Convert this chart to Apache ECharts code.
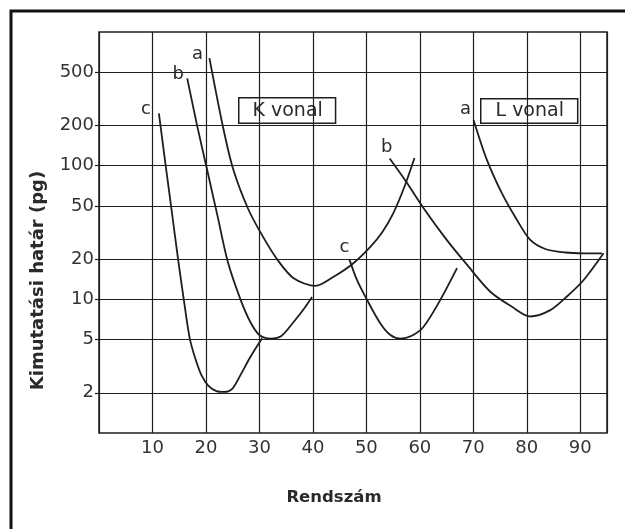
<!DOCTYPE html>
<html>
<head>
<meta charset="utf-8">
<script src="https://cdn.jsdelivr.net/npm/echarts@6/dist/echarts.min.js"></script>
<style>
  html, body { margin: 0; padding: 0; background: #fff; }
  #chart { width: 625px; height: 529px; }
</style>
</head>
<body>
<div id="chart"></div>
<script>
// ---------- DATA (rendszám, kimutatási határ pg) ----------

// K vonal
const kA = [[20.65, 638], [23.2, 194], [25.1, 94], [27.9, 47.4], [30.6, 29.7], [33.4, 19.7], [36.4, 14.4], [40.5, 12.6], [43.8, 14.7], [47.4, 18.4], [50.7, 24.6], [53.0, 31.9], [55.05, 44.2], [57.1, 69.2], [59.0, 114]];
const kB = [[16.5, 450], [18.4, 195], [20.2, 94], [22.15, 42.3], [24.1, 19], [26.45, 10], [28.3, 6.77], [30.0, 5.41], [32.1, 5.09], [34.1, 5.32], [36.4, 6.77], [38.3, 8.46], [39.85, 10.4]];
const kC = [[11.2, 246], [12.56, 94], [13.55, 47.4], [14.86, 19], [15.85, 10], [16.97, 5.11], [18.04, 3.58], [19.16, 2.71], [20.47, 2.25], [21.96, 2.06], [23.46, 2.03], [24.95, 2.15], [26.45, 2.71], [28.3, 3.7], [30.5, 5.11]];

// L vonal
const lA = [[70.06, 219], [72.56, 110], [75.36, 62], [78.17, 39.2], [80.65, 27.8], [83.46, 23.8], [87.2, 22.4], [90.6, 22.1], [94.06, 22.1]];
const lB = [[54.36, 113], [57.48, 75.4], [60.71, 48], [64.77, 28.7], [68.69, 18.4], [73.18, 11.4], [77.23, 8.8], [80.65, 7.44], [84.4, 8.3], [87.5, 10.5], [90.6, 13.9], [94.36, 22.1]];
const lC = [[46.82, 19.9], [48.26, 13.9], [50.13, 9.9], [52.62, 6.6], [54.5, 5.41], [56.36, 5.09], [58.4, 5.32], [60.7, 6.24], [63.83, 9.9], [66.95, 17.1]];

const yTicks = [2, 5, 10, 20, 50, 100, 200, 500];
const xTicks = [10, 20, 30, 40, 50, 60, 70, 80, 90];

const FONT = 'DejaVu Sans';
const INK = '#1e1e1e';

// letter at the start of each curve, offset in px
function curve(data, letter, offset) {
	return {
		type: 'line',
		yAxisIndex: 0,
		data: data,
		smooth: 0.3,
		symbol: 'none',
		lineStyle: { color: INK, width: 1.8 },
		markPoint: {
			symbol: 'circle',
			symbolSize: 0,
			silent: true,
			data: [{ coord: data[0] }],
			label: {
				show: true,
				formatter: letter,
				offset: offset,
				color: '#2a2a2a',
				fontFamily: FONT,
				fontSize: 18
			}
		}
	};
}

const chart = echarts.init(document.getElementById('chart'));

const option = {
	animation: false,
	backgroundColor: '#fff',
	grid: {
		left: 99,
		right: 18,
		top: 32,
		bottom: 96,
		show: true,
		borderColor: INK,
		borderWidth: 1.5
	},
	xAxis: {
		type: 'value',
		min: 0,
		max: 95,
		interval: 10,
		axisLine: { show: false },
		axisTick: { show: false },
		splitLine: { show: true, lineStyle: { color: INK, width: 1.2 } },
		axisLabel: {
			margin: 6,
			color: '#333',
			fontFamily: FONT,
			fontSize: 18,
			formatter: v => xTicks.indexOf(v) >= 0 ? String(v) : ''
		},
		name: 'Rendszám',
		nameLocation: 'middle',
		nameGap: 56,
		nameTextStyle: {
			color: '#2a2a2a',
			fontFamily: FONT,
			fontSize: 16.5,
			fontWeight: 'bold',
			padding: [0, 38, 0, 0]
		}
	},
	yAxis: [
		{
			// data axis (log)
			type: 'log',
			logBase: 10,
			min: 1,
			max: 1000,
			show: false
		},
		{
			// grid + labels at 2, 5, 10 ... on the same log positions
			type: 'value',
			position: 'left',
			min: 0,
			max: 3,
			axisLine: { show: false },
			axisTick: {
				show: true,
				length: 4,
				lineStyle: { color: INK, width: 1.2 },
				customValues: yTicks.map(v => Math.log10(v))
			},
			splitLine: { show: true, lineStyle: { color: INK, width: 1.2 } },
			axisLabel: {
				margin: 5,
				color: '#333',
				fontFamily: FONT,
				fontSize: 18,
				customValues: yTicks.map(v => Math.log10(v)),
				formatter: v => String(Math.round(Math.pow(10, v)))
			},
			name: 'Kimutatási határ (pg)',
			nameLocation: 'middle',
			nameRotate: 90,
			nameGap: 52,
			nameTextStyle: {
				color: '#2a2a2a',
				fontFamily: FONT,
				fontSize: 18,
				fontWeight: 'bold',
				padding: [0, 96, 0, 0]
			}
		}
	],
	series: [
		curve(kA, 'a', [-12, -4]),
		curve(kB, 'b', [-9, -4]),
		curve(kC, 'c', [-13, -4]),
		curve(lA, 'a', [-8, -11]),
		curve(lB, 'b', [-3, -11]),
		curve(lC, 'c', [-5, -12])
	],
	graphic: [
		{
			// outer frame of the figure
			type: 'rect',
			silent: true,
			shape: { x: 11, y: 11, width: 700, height: 600 },
			style: { fill: 'none', stroke: '#111', lineWidth: 3 }
		},
		{
			type: 'text',
			left: 238,
			top: 97,
			style: {
				text: 'K vonal',
				font: '19px "DejaVu Sans"',
				fill: '#2a2a2a',
				backgroundColor: '#fff',
				borderColor: INK,
				borderWidth: 1.5,
				padding: [3, 12, 2, 13]
			}
		},
		{
			type: 'text',
			left: 480,
			top: 98,
			style: {
				text: 'L vonal',
				font: '19px "DejaVu Sans"',
				fill: '#2a2a2a',
				backgroundColor: '#fff',
				borderColor: INK,
				borderWidth: 1.5,
				padding: [2, 13, 2, 14]
			}
		}
	]
};

chart.setOption(option);
</script>
</body>
</html>
